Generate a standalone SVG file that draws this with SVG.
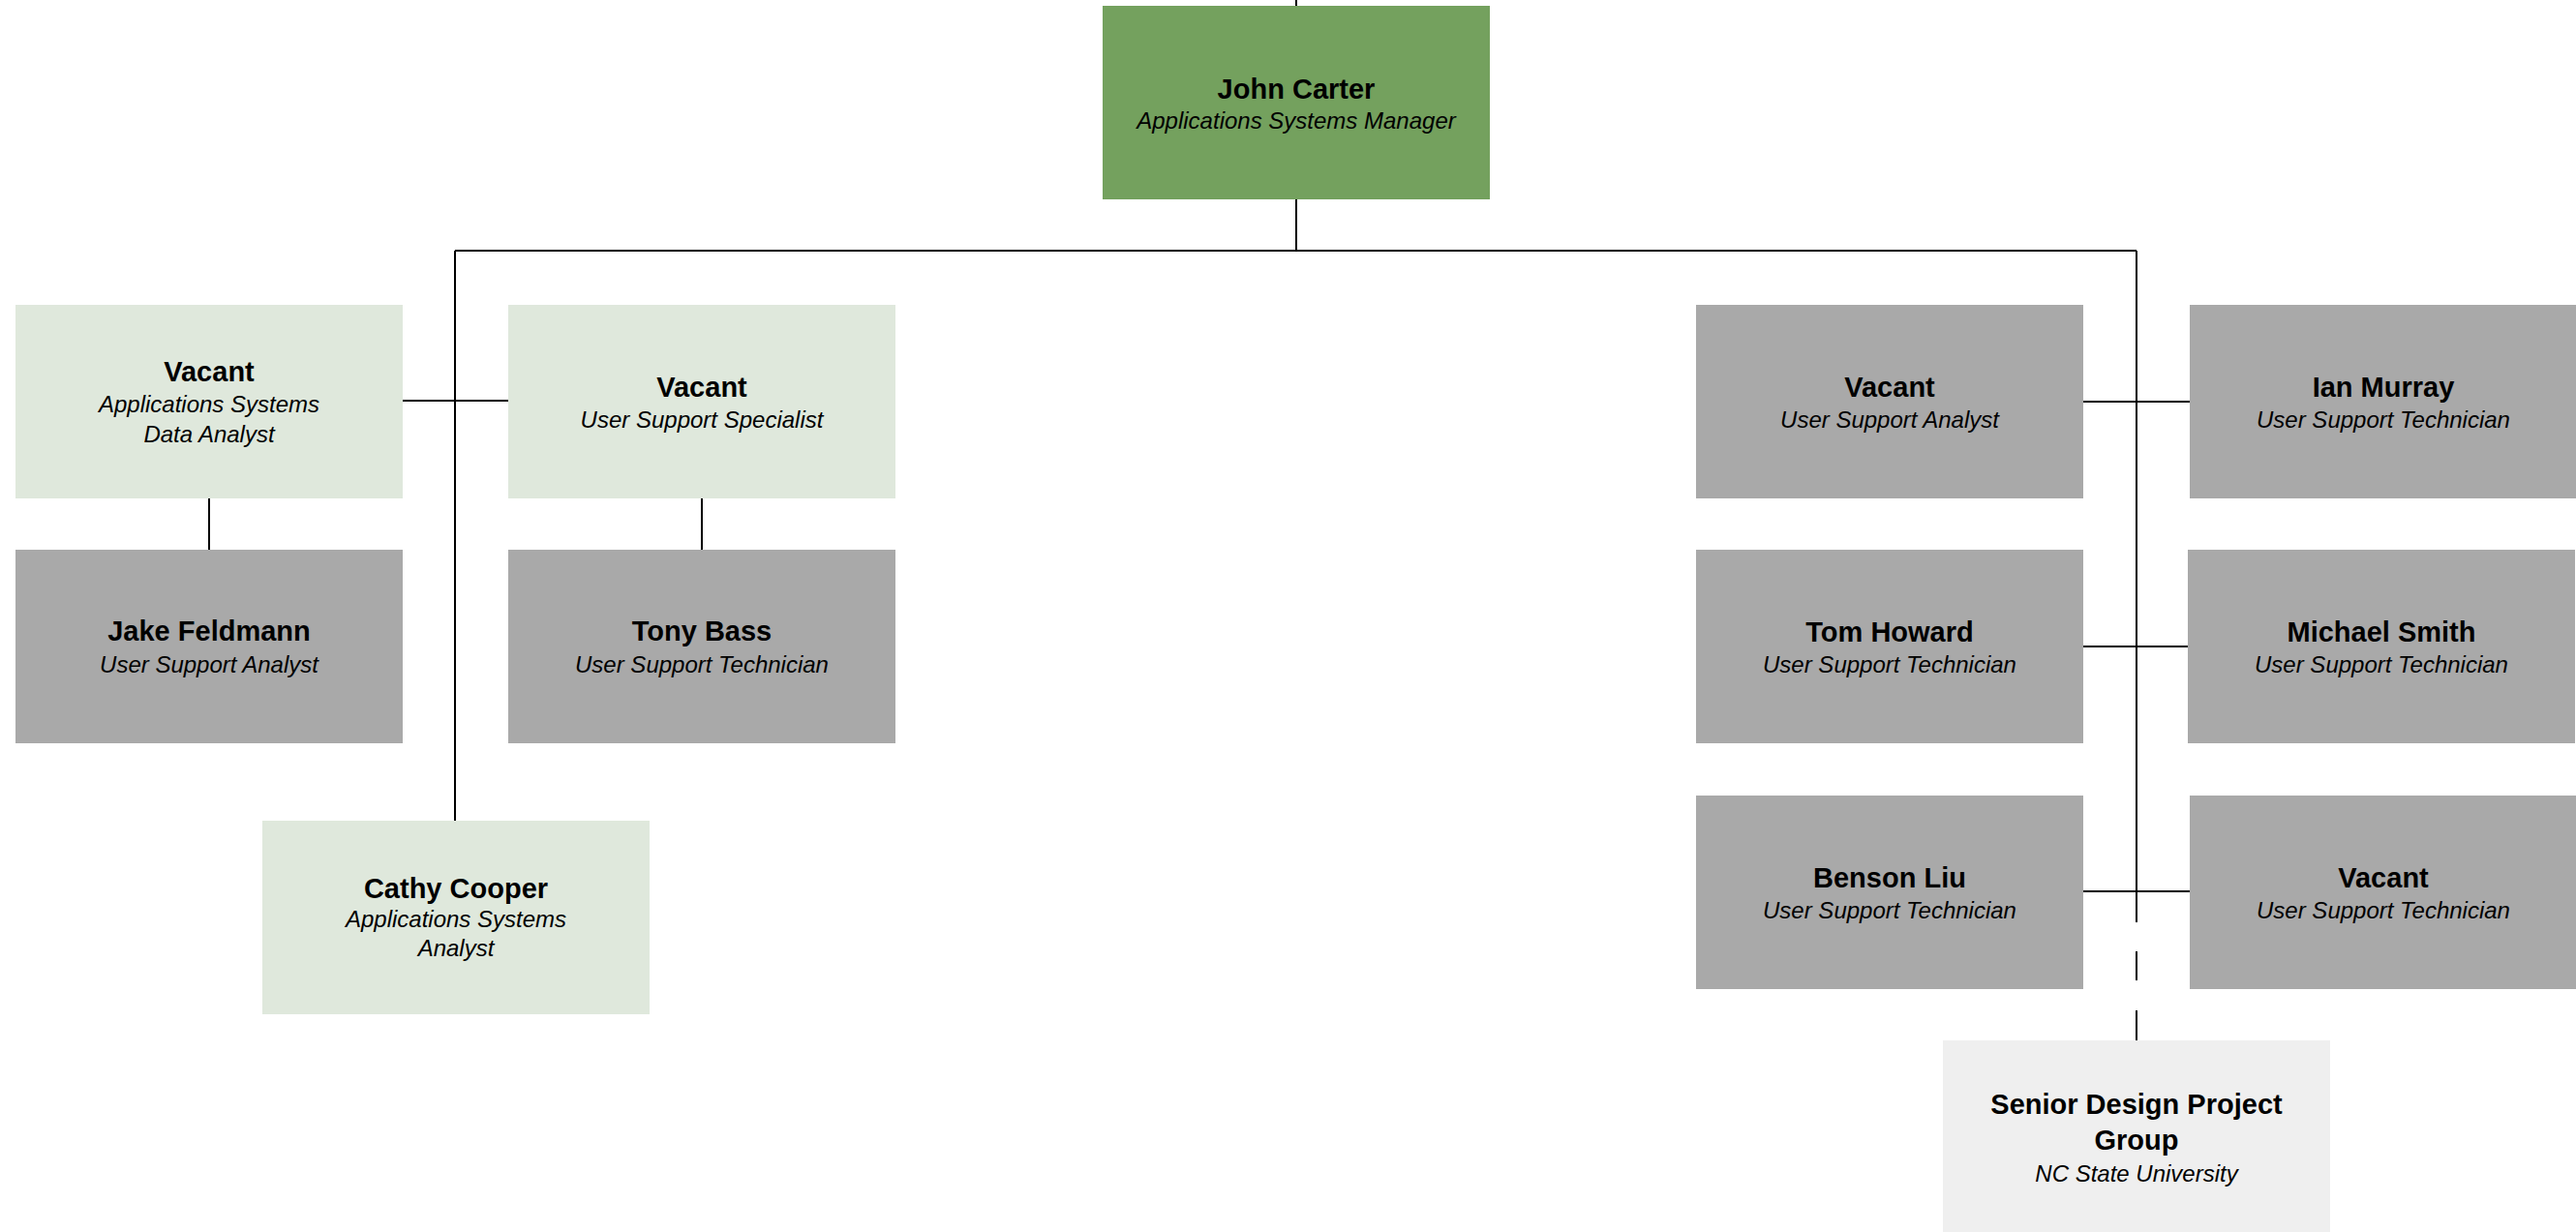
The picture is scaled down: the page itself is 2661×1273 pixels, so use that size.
<svg xmlns="http://www.w3.org/2000/svg" width="2661" height="1273" viewBox="0 0 2661 1273">
<style>
.n{font-family:"Liberation Sans",Arial,sans-serif;font-weight:bold;font-size:29px;fill:#000;text-anchor:middle}
.t{font-family:"Liberation Sans",Arial,sans-serif;font-style:italic;font-size:24px;fill:#000;text-anchor:middle}
.mgr{fill:#74a15e}
.lt{fill:#dfe8dc}
.gr{fill:#a9a9a9}
.ext{fill:#efefef}
.c{stroke:#000;stroke-width:2;fill:none}
</style>
<rect width="2661" height="1273" fill="#fff"/>
<g id="connectors">
<line class="c" x1="1339" y1="0" x2="1339" y2="6"/>
<line class="c" x1="1339" y1="206" x2="1339" y2="259"/>
<line class="c" x1="470" y1="259" x2="2207" y2="259"/>
<line class="c" x1="470" y1="259" x2="470" y2="848"/>
<line class="c" x1="416" y1="414" x2="525" y2="414"/>
<line class="c" x1="216" y1="515" x2="216" y2="568"/>
<line class="c" x1="725" y1="515" x2="725" y2="568"/>
<line class="c" x1="2207" y1="259" x2="2207" y2="953"/>
<line class="c" x1="2207" y1="983" x2="2207" y2="1013"/>
<line class="c" x1="2207" y1="1044" x2="2207" y2="1075"/>
<line class="c" x1="2152" y1="415" x2="2262" y2="415"/>
<line class="c" x1="2152" y1="668" x2="2260" y2="668"/>
<line class="c" x1="2152" y1="921" x2="2262" y2="921"/>
</g>
<g id="john-carter">
<rect class="mgr" x="1139" y="6" width="400" height="200"/>
<text class="n" x="1339" y="102">John Carter</text>
<text class="t" x="1339" y="133">Applications Systems Manager</text>
</g>
<g id="vacant-asda">
<rect class="lt" x="16" y="315" width="400" height="200"/>
<text class="n" x="216" y="394">Vacant</text>
<text class="t" x="216" y="426">Applications Systems</text>
<text class="t" x="216" y="457">Data Analyst</text>
</g>
<g id="vacant-uss">
<rect class="lt" x="525" y="315" width="400" height="200"/>
<text class="n" x="725" y="410">Vacant</text>
<text class="t" x="725" y="442">User Support Specialist</text>
</g>
<g id="jake-feldmann">
<rect class="gr" x="16" y="568" width="400" height="200"/>
<text class="n" x="216" y="662">Jake Feldmann</text>
<text class="t" x="216" y="695">User Support Analyst</text>
</g>
<g id="tony-bass">
<rect class="gr" x="525" y="568" width="400" height="200"/>
<text class="n" x="725" y="662">Tony Bass</text>
<text class="t" x="725" y="695">User Support Technician</text>
</g>
<g id="cathy-cooper">
<rect class="lt" x="271" y="848" width="400" height="200"/>
<text class="n" x="471" y="928">Cathy Cooper</text>
<text class="t" x="471" y="958">Applications Systems</text>
<text class="t" x="471" y="988">Analyst</text>
</g>
<g id="vacant-usa">
<rect class="gr" x="1752" y="315" width="400" height="200"/>
<text class="n" x="1952" y="410">Vacant</text>
<text class="t" x="1952" y="442">User Support Analyst</text>
</g>
<g id="ian-murray">
<rect class="gr" x="2262" y="315" width="400" height="200"/>
<text class="n" x="2462" y="410">Ian Murray</text>
<text class="t" x="2462" y="442">User Support Technician</text>
</g>
<g id="tom-howard">
<rect class="gr" x="1752" y="568" width="400" height="200"/>
<text class="n" x="1952" y="663">Tom Howard</text>
<text class="t" x="1952" y="695">User Support Technician</text>
</g>
<g id="michael-smith">
<rect class="gr" x="2260" y="568" width="400" height="200"/>
<text class="n" x="2460" y="663">Michael Smith</text>
<text class="t" x="2460" y="695">User Support Technician</text>
</g>
<g id="benson-liu">
<rect class="gr" x="1752" y="822" width="400" height="200"/>
<text class="n" x="1952" y="917">Benson Liu</text>
<text class="t" x="1952" y="949">User Support Technician</text>
</g>
<g id="vacant-ust">
<rect class="gr" x="2262" y="822" width="400" height="200"/>
<text class="n" x="2462" y="917">Vacant</text>
<text class="t" x="2462" y="949">User Support Technician</text>
</g>
<g id="senior-design">
<rect class="ext" x="2007" y="1075" width="400" height="200"/>
<text class="n" x="2207" y="1151">Senior Design Project</text>
<text class="n" x="2207" y="1188">Group</text>
<text class="t" x="2207" y="1221">NC State University</text>
</g>
</svg>
